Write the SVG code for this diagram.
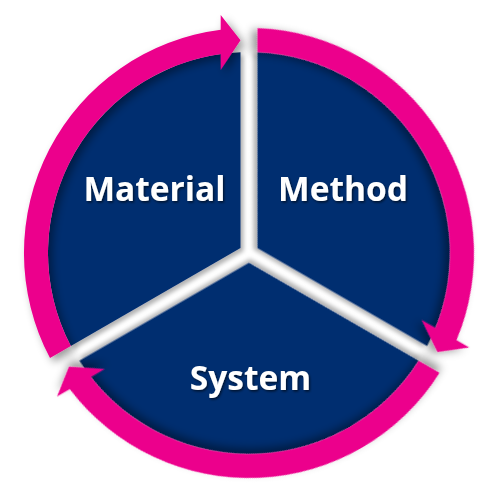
<svg xmlns="http://www.w3.org/2000/svg" xmlns:xlink="http://www.w3.org/1999/xlink" width="500" height="500" viewBox="0 0 500 500">
  <defs>
    <filter id="shadow" x="-20%" y="-20%" width="140%" height="140%">
      <feDropShadow dx="4" dy="4" stdDeviation="4" flood-color="#000" flood-opacity="0.4"/>
    </filter>
    <filter id="sshadow" x="-20%" y="-20%" width="140%" height="140%">
      <feDropShadow dx="3" dy="3" stdDeviation="2" flood-color="#000" flood-opacity="0.3"/>
    </filter>
    <filter id="tshadow" x="-10%" y="-20%" width="120%" height="140%">
      <feDropShadow dx="1.2" dy="1.5" stdDeviation="1" flood-color="#000" flood-opacity="0.6"/>
    </filter>
    <path id="sector" d="M240.5,248.1 L70.8,346.1 A201,201 0 0 1 240.5,52.2 Z"/>
    <path id="arrow" d="M50.0,358.1 A225,225 0 0 1 220.7,29.8 L220.7,15 L240.5,40.2 L220.7,70 L220.7,54.0 A201,201 0 0 0 70.8,346.1 Z"/>
  </defs>
  <style>
    .sector { fill: #022D6F; filter: url(#sshadow); }
    .arrow { fill: #EC008C; filter: url(#shadow); }
    .label { fill: #FFFFFF; font-family: "Open Sans", "Noto Sans", "Liberation Sans", sans-serif; font-weight: bold; font-size: 33.5px; text-anchor: middle; filter: url(#tshadow); }
  </style>
  <rect width="500" height="500" fill="#FFFFFF"/>
  <g id="material">
    <use xlink:href="#sector" href="#sector" class="sector"/>
  </g>
  <g id="method">
    <use xlink:href="#sector" href="#sector" class="sector" transform="rotate(120 249 253)"/>
  </g>
  <g id="system">
    <use xlink:href="#sector" href="#sector" class="sector" transform="rotate(240 249 253)"/>
  </g>
  <g id="connectors">
    <use xlink:href="#arrow" href="#arrow" class="arrow"/>
    <use xlink:href="#arrow" href="#arrow" class="arrow" transform="rotate(120 249 253)"/>
    <use xlink:href="#arrow" href="#arrow" class="arrow" transform="rotate(240 249 253)"/>
  </g>
  <g id="labels">
    <text class="label" x="154.5" y="201">Material</text>
    <text class="label" x="343" y="201">Method</text>
    <text class="label" x="250.5" y="390">System</text>
  </g>
</svg>
